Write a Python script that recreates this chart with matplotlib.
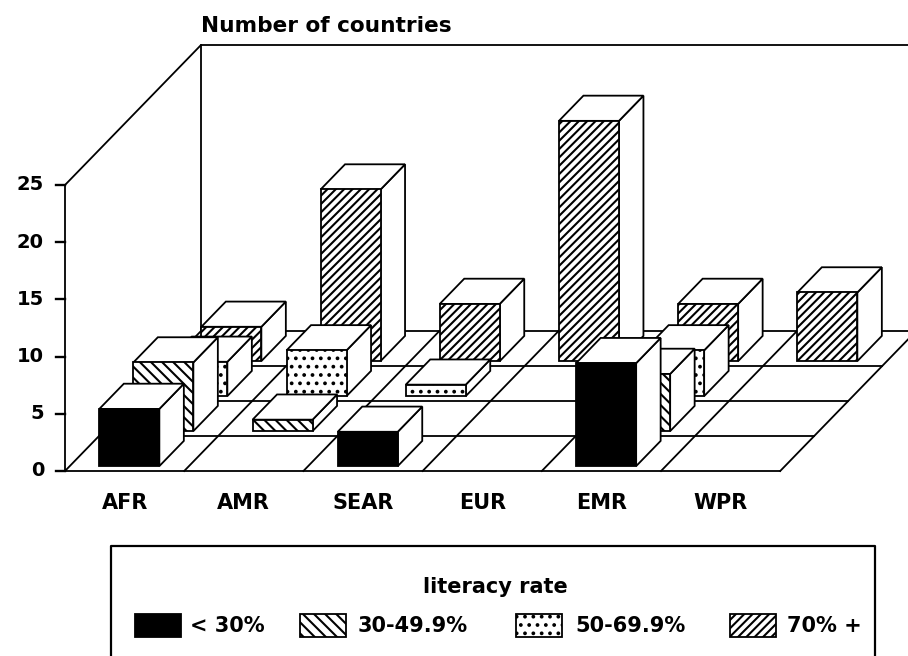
import matplotlib
matplotlib.use('Agg')
import matplotlib.pyplot as plt
from matplotlib.patches import Polygon, Rectangle

regions = ['AFR', 'AMR', 'SEAR', 'EUR', 'EMR', 'WPR']
under_30 = [5, 0, 3, 0, 9, 0]
from_30 = [6, 1, 0, 0, 5, 0]
from_50 = [3, 4, 1, 0, 4, 0]
over_70 = [3, 15, 5, 21, 5, 6]
series_labels = ['< 30%', '30-49.9%', '50-69.9%', '70% +']
y_ticks = [0, 5, 10, 15, 20, 25]

# oblique projection, figure pixels
X0, Y0 = 65, 471
COL_W, UNIT = 119.2, 11.44
DX, DY = 34, 35
BAR_W, BAR_D, GAP_D = 60, 0.72, 0.14

plt.rcParams['font.family'] = 'DejaVu Sans'
plt.rcParams['font.weight'] = 'bold'
plt.rcParams['hatch.linewidth'] = 1.5
LW = 1.3
FS = 15


def proj(col, row, val=0):
    return X0 + col * COL_W + row * DX, Y0 - val * UNIT - row * DY


fig = plt.figure(figsize=(9.08, 6.56), dpi=100)
ax = fig.add_axes([0, 0, 1, 1])
ax.set_xlim(0, 908)
ax.set_ylim(656, 0)
ax.axis('off')

# walls
ax.plot(*zip(proj(0, 0), proj(0, 0, 25), proj(0, 4, 25), (920, proj(0, 4, 25)[1])), color='k', lw=LW, zorder=1)
ax.plot(*zip(proj(0, 4, 25), proj(0, 4)), color='k', lw=LW, zorder=1)

# floor
for r in range(5):
    ax.plot(*zip(proj(0, r), proj(6, r)), color='k', lw=LW, zorder=1)
for c in range(7):
    ax.plot(*zip(proj(c, 0), proj(c, 4)), color='k', lw=LW, zorder=1)

# y axis
for v in y_ticks:
    xt, yt = proj(0, 0, v)
    ax.plot([xt - 9, xt], [yt, yt], color='k', lw=LW + 0.4, zorder=1)
    ax.text(xt - 21, yt, str(v), ha='right', va='center', fontsize=FS - 1)

ax.text(201, 26, 'Number of countries', ha='left', va='center', fontsize=FS + 0.6)

for i, reg in enumerate(regions):
    ax.text(proj(i + 0.5, 0)[0], 503, reg, ha='center', va='center', fontsize=FS)


def bar(col, row, val, fc, hatch):
    w = BAR_W / COL_W
    c0 = col + (1 - w) / 2
    r0 = row + GAP_D
    r1 = r0 + BAR_D
    c1 = c0 + w
    front = [proj(c0, r0), proj(c1, r0), proj(c1, r0, val), proj(c0, r0, val)]
    side = [proj(c1, r0), proj(c1, r1), proj(c1, r1, val), proj(c1, r0, val)]
    top = [proj(c0, r0, val), proj(c1, r0, val), proj(c1, r1, val), proj(c0, r1, val)]
    ax.add_patch(Polygon(side, fc='white', ec='k', lw=LW, zorder=3))
    ax.add_patch(Polygon(top, fc='white', ec='k', lw=LW, zorder=3))
    ax.add_patch(Polygon(front, fc=fc, ec='k', lw=LW, hatch=hatch, zorder=3))


series = [under_30, from_30, from_50, over_70]
fills = ['black', 'white', 'white', 'white']
hatches = [None, '\\\\\\', '..', '////']

# back row first so the front rows cover it
for row in range(3, -1, -1):
    for col, val in enumerate(series[row]):
        if val > 0:
            bar(col, row, val, fills[row], hatches[row])

# legend box, runs off the bottom of the page
ax.plot([111, 111, 875, 875], [660, 546, 546, 660], color='k', lw=LW + 0.3)
ax.text(495, 587, 'literacy rate', ha='center', va='center', fontsize=FS)
swatch_x = [135, 300, 516, 730]
text_x = [190, 358, 575, 787]
for i in range(4):
    ax.add_patch(Rectangle((swatch_x[i], 614), 46, 23, fc=fills[i], ec='k', lw=LW, hatch=hatches[i]))
    ax.text(text_x[i], 626, series_labels[i], ha='left', va='center', fontsize=FS)

fig.savefig('out.png', dpi=100)
